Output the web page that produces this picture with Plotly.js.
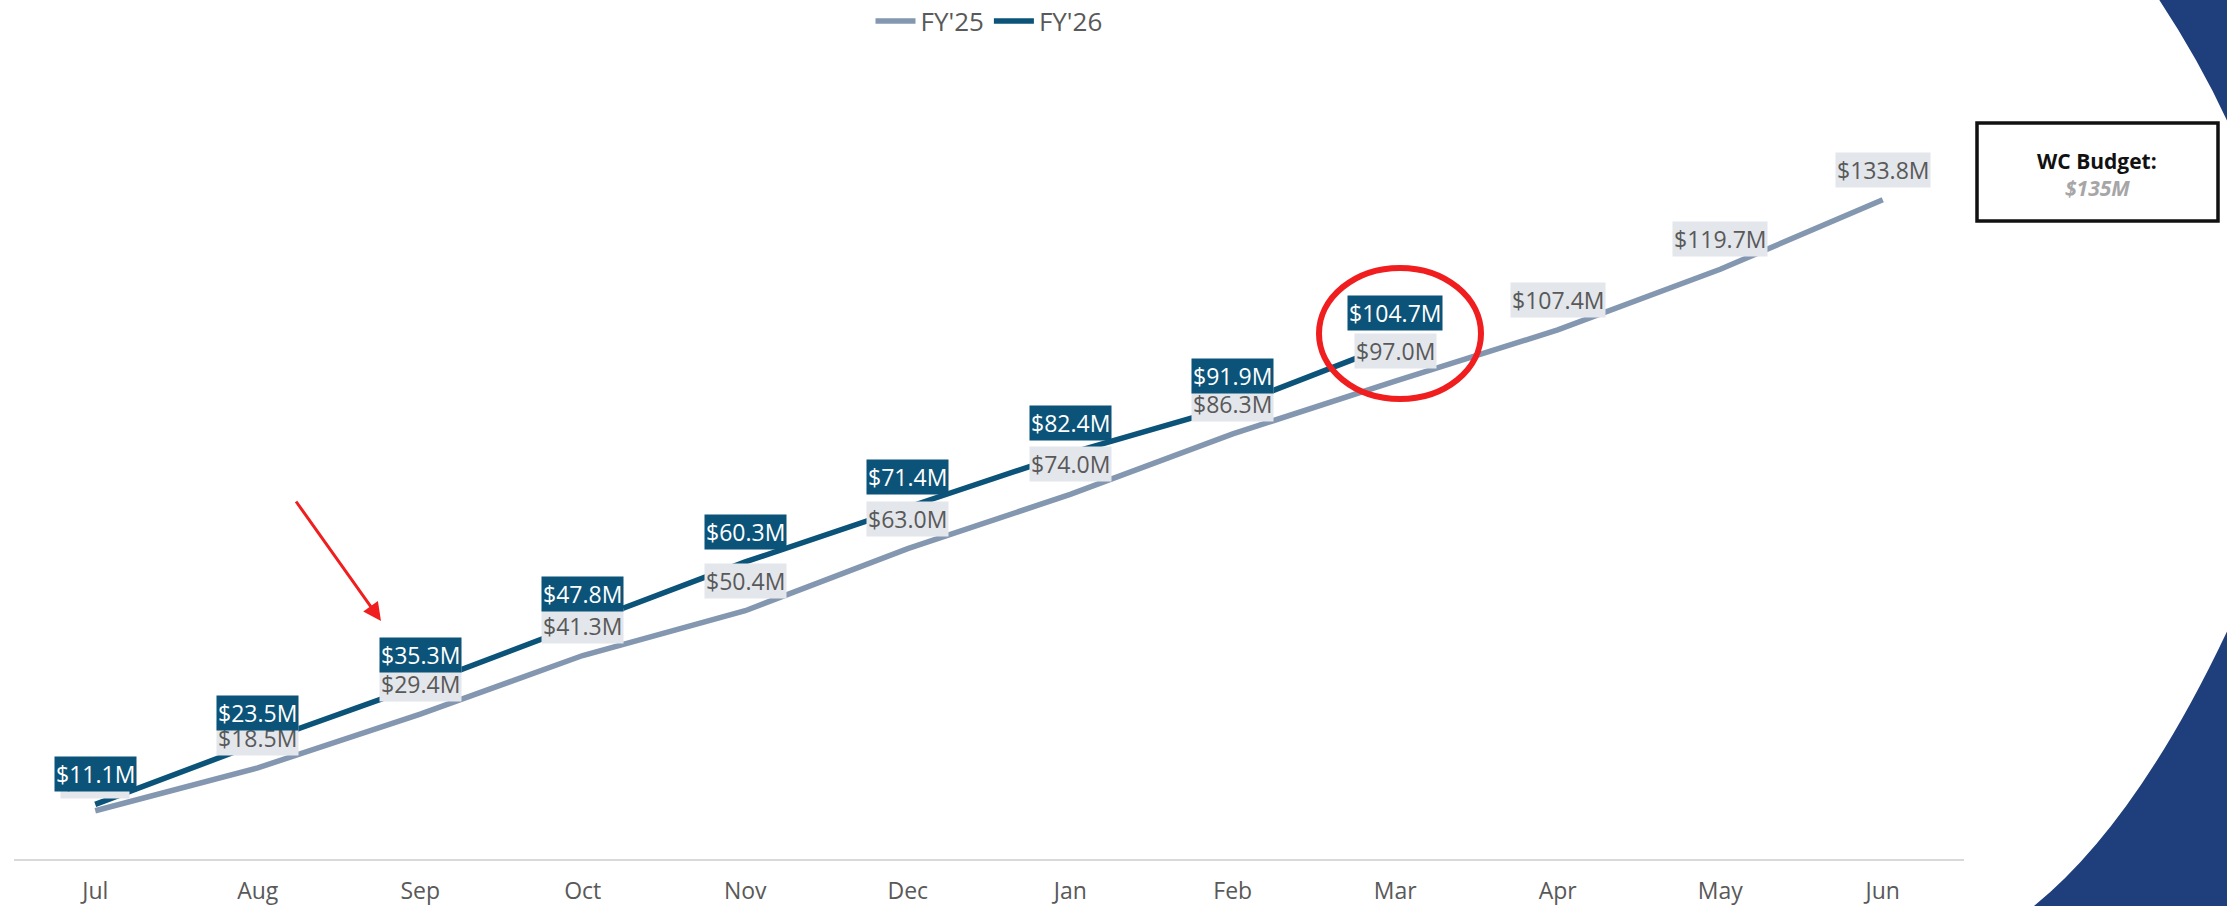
<!DOCTYPE html>
<html>
<head>
<meta charset="utf-8">
<script src="https://cdn.plot.ly/plotly-3.0.1.min.js"></script>
<style>
  html, body { margin: 0; padding: 0; background: #ffffff; }
  #chart { width: 2227px; height: 906px; }
</style>
</head>
<body>
<div id="chart"></div>
<script>
// ---- data ----
const months = ['Jul', 'Aug', 'Sep', 'Oct', 'Nov', 'Dec', 'Jan', 'Feb', 'Mar', 'Apr', 'May', 'Jun'];
const fy25Values = [9.8, 18.5, 29.4, 41.3, 50.4, 63.0, 74.0, 86.3, 97.0, 107.4, 119.7, 133.8];
const fy26Values = [11.1, 23.5, 35.3, 47.8, 60.3, 71.4, 82.4, 91.9, 104.7];
const seriesNames = ["FY'25", "FY'26"];
const budgetTitle = 'WC Budget:';
const budgetValue = '$135M';

// ---- styles ----
const W = 2227, H = 906;
const M = { l: 14, r: 263, t: 120, b: 47, autoexpand: false };
const plotW = W - M.l - M.r, plotH = H - M.t - M.b;
const X = px => (px - M.l) / plotW;        // pixel -> paper x
const Y = py => (H - M.b - py) / plotH;    // pixel -> paper y
const c25 = '#8497B0', c26 = '#0B5378';
const fontFam = '"Open Sans", "DejaVu Sans", sans-serif';
const fmt = v => '$' + v.toFixed(1) + 'M';

const traces = [
  { x: months, y: fy25Values, name: seriesNames[0], type: 'scatter', mode: 'lines',
    line: { color: c25, width: 5.5 }, hoverinfo: 'skip' },
  { x: months.slice(0, fy26Values.length), y: fy26Values, name: seriesNames[1], type: 'scatter', mode: 'lines',
    line: { color: c26, width: 5.5 }, hoverinfo: 'skip' }
];

const annotations = [];
fy25Values.forEach((v, i) => annotations.push({
  x: months[i], y: v, xref: 'x', yref: 'y', text: fmt(v), showarrow: false,
  xanchor: 'center', yshift: 30, bgcolor: '#E3E6EB', borderpad: 1,
  font: { family: fontFam, size: 23, color: '#595959' }
}));
fy26Values.forEach((v, i) => annotations.push({
  x: months[i], y: v, xref: 'x', yref: 'y', text: fmt(v), showarrow: false,
  xanchor: 'center', yshift: 30, bgcolor: c26, borderpad: 1,
  font: { family: fontFam, size: 23, color: '#ffffff' }
}));
// red arrow
annotations.push({
  xref: 'paper', yref: 'paper', x: X(381), y: Y(621), text: '',
  showarrow: true, axref: 'pixel', ayref: 'pixel', ax: -86, ay: -121,
  arrowhead: 2, arrowsize: 1.2, arrowwidth: 3, arrowcolor: '#F01E1E'
});
// budget box text
annotations.push({
  xref: 'paper', yref: 'paper', x: X(2097), y: Y(161), xanchor: 'center', yanchor: 'middle',
  text: '<b>' + budgetTitle + '</b>',
  showarrow: false, font: { family: fontFam, size: 21, color: '#111111' }
});
annotations.push({
  xref: 'paper', yref: 'paper', x: X(2097), y: Y(188), xanchor: 'center', yanchor: 'middle',
  text: '<b><i>' + budgetValue + '</i></b>',
  showarrow: false, font: { family: fontFam, size: 21, color: '#A6A6A6' }
});

const navy = '#1F3E7C';
const shapes = [
  // decorative navy corners
  { type: 'path', xref: 'paper', yref: 'paper', layer: 'below', line: { width: 0 }, fillcolor: navy,
    path: `M ${X(2158)},${Y(-2)} Q ${X(2201)},${Y(63)} ${X(2230)},${Y(127)} L ${X(2235)},${Y(-5)} Z` },
  { type: 'path', xref: 'paper', yref: 'paper', layer: 'below', line: { width: 0 }, fillcolor: navy,
    path: `M ${X(2230)},${Y(625)} Q ${X(2136)},${Y(826)} ${X(2029)},${Y(910)} L ${X(2235)},${Y(910)} Z` },
  // red circle highlight
  { type: 'circle', xref: 'paper', yref: 'paper', layer: 'above',
    x0: X(1319), x1: X(1481), y0: Y(399), y1: Y(268),
    line: { color: '#F01E1E', width: 6 } },
  // budget box
  { type: 'rect', xref: 'paper', yref: 'paper', layer: 'above',
    x0: X(1977), x1: X(2218), y0: Y(221), y1: Y(123),
    line: { color: '#111111', width: 3.5 }, fillcolor: 'rgba(255,255,255,0)' }
];

const layout = {
  width: W, height: H,
  margin: M,
  paper_bgcolor: '#ffffff', plot_bgcolor: '#ffffff',
  font: { family: fontFam, color: '#595959' },
  showlegend: true,
  legend: {
    orientation: 'h', x: 0.5, xanchor: 'center', y: Y(21), yanchor: 'middle',
    font: { family: fontFam, size: 26, color: '#595959' }, itemwidth: 40
  },
  xaxis: {
    type: 'category', range: [-0.5, 11.5], showgrid: false, zeroline: false,
    showline: true, linecolor: '#D9D9D9', linewidth: 2, ticks: '', ticklabelstandoff: 10,
    tickfont: { family: fontFam, size: 23, color: '#595959' }, fixedrange: true
  },
  yaxis: { range: [0, 150], visible: false, showgrid: false, zeroline: false, fixedrange: true },
  annotations: annotations,
  shapes: shapes
};

Plotly.newPlot('chart', traces, layout, { displayModeBar: false, staticPlot: true });
</script>
</body>
</html>
